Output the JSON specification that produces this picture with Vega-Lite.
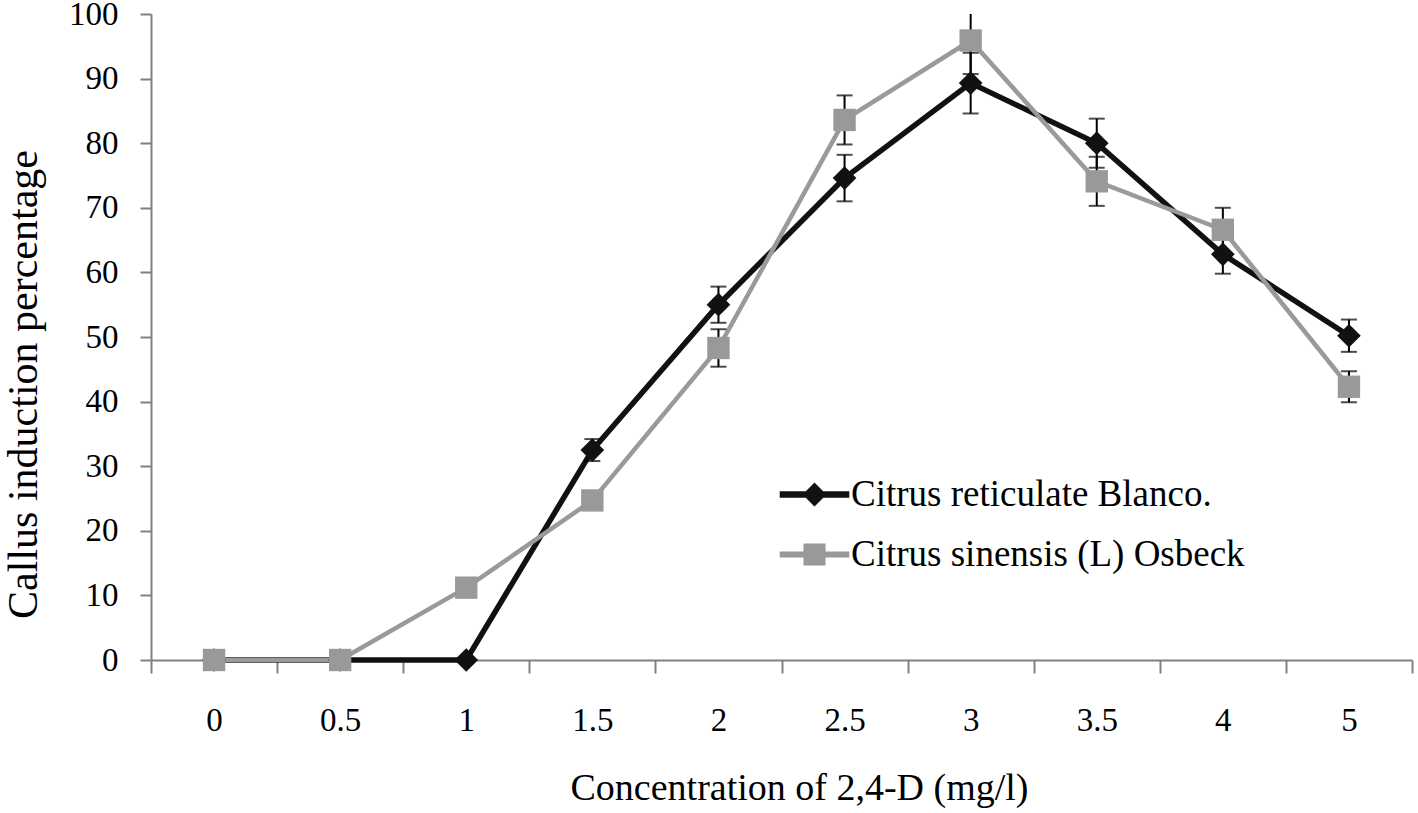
{
  "$schema": "https://vega.github.io/schema/vega-lite/v6.json",
  "width": 1261,
  "height": 646,
  "autosize": {"type": "none"},
  "padding": {"left": 151, "top": 14, "right": 6, "bottom": 153},
  "background": "white",
  "config": {
    "view": {"stroke": null},
    "font": "Liberation Serif",
    "axis": {"grid": false, "labelFont": "Liberation Serif", "titleFont": "Liberation Serif", "labelColor": "#000000", "titleColor": "#000000", "titleFontWeight": "normal", "domainColor": "#808080", "tickColor": "#808080", "domainWidth": 2, "tickWidth": 2},
    "legend": {"orient": "none", "title": null, "labelFont": "Liberation Serif", "labelFontSize": 37, "labelColor": "#000000", "labelLimit": 0, "labelOffset": 18, "symbolSize": 576, "symbolStrokeWidth": 0, "symbolOpacity": 1}
  },
  "data": {
    "values": [
      {"conc": "0", "series": "Citrus reticulate Blanco.", "value": 0, "lo": null, "hi": null},
      {"conc": "0.5", "series": "Citrus reticulate Blanco.", "value": 0, "lo": null, "hi": null},
      {"conc": "1", "series": "Citrus reticulate Blanco.", "value": 0, "lo": null, "hi": null},
      {"conc": "1.5", "series": "Citrus reticulate Blanco.", "value": 32.5, "lo": 30.8, "hi": 34.2},
      {"conc": "2", "series": "Citrus reticulate Blanco.", "value": 55.0, "lo": 52.2, "hi": 57.8},
      {"conc": "2.5", "series": "Citrus reticulate Blanco.", "value": 74.6, "lo": 71.0, "hi": 78.2},
      {"conc": "3", "series": "Citrus reticulate Blanco.", "value": 89.3, "lo": 84.6, "hi": 94.0},
      {"conc": "3.5", "series": "Citrus reticulate Blanco.", "value": 80.0, "lo": 76.2, "hi": 83.8},
      {"conc": "4", "series": "Citrus reticulate Blanco.", "value": 62.8, "lo": 59.8, "hi": 65.8},
      {"conc": "5", "series": "Citrus reticulate Blanco.", "value": 50.2, "lo": 47.7, "hi": 52.7},
      {"conc": "0", "series": "Citrus sinensis (L) Osbeck", "value": 0, "lo": null, "hi": null},
      {"conc": "0.5", "series": "Citrus sinensis (L) Osbeck", "value": 0, "lo": null, "hi": null},
      {"conc": "1", "series": "Citrus sinensis (L) Osbeck", "value": 11.2, "lo": null, "hi": null},
      {"conc": "1.5", "series": "Citrus sinensis (L) Osbeck", "value": 24.7, "lo": null, "hi": null},
      {"conc": "2", "series": "Citrus sinensis (L) Osbeck", "value": 48.3, "lo": 45.4, "hi": 51.2},
      {"conc": "2.5", "series": "Citrus sinensis (L) Osbeck", "value": 83.6, "lo": 79.8, "hi": 87.4},
      {"conc": "3", "series": "Citrus sinensis (L) Osbeck", "value": 95.9, "lo": 90.7, "hi": 101.1},
      {"conc": "3.5", "series": "Citrus sinensis (L) Osbeck", "value": 74.1, "lo": 70.3, "hi": 77.9},
      {"conc": "4", "series": "Citrus sinensis (L) Osbeck", "value": 66.6, "lo": 63.2, "hi": 70.0},
      {"conc": "5", "series": "Citrus sinensis (L) Osbeck", "value": 42.3, "lo": 39.9, "hi": 44.7}
    ]
  },
  "encoding": {
    "x": {
      "field": "conc",
      "type": "ordinal",
      "sort": ["0", "0.5", "1", "1.5", "2", "2.5", "3", "3.5", "4", "5"],
      "scale": {"type": "band", "paddingInner": 0, "paddingOuter": 0},
      "axis": {"title": "Concentration of 2,4-D (mg/l)", "labelAngle": 0, "tickBand": "extent", "tickSize": 13, "labelFontSize": 33, "labelPadding": 31, "titleFontSize": 38, "titlePadding": 32, "titleX": 648}
    }
  },
  "layer": [
    {
      "transform": [{"filter": "datum.series === 'Citrus reticulate Blanco.'"}],
      "mark": {"type": "line", "color": "#111111", "strokeWidth": 5.5},
      "encoding": {
        "y": {"field": "value", "type": "quantitative", "scale": {"domain": [0, 100], "nice": false}, "axis": {"title": "Callus induction percentage", "values": [0, 10, 20, 30, 40, 50, 60, 70, 80, 90, 100], "tickSize": 11, "labelFontSize": 33, "labelPadding": 22, "titleFontSize": 42, "titlePadding": 23, "titleY": 370}}
      }
    },
    {
      "transform": [{"filter": "datum.series === 'Citrus sinensis (L) Osbeck'"}],
      "mark": {"type": "line", "color": "#9a9a9a", "strokeWidth": 4.5},
      "encoding": {"y": {"field": "value", "type": "quantitative"}}
    },
    {
      "transform": [{"filter": "datum.lo != null"}],
      "mark": {"type": "rule", "color": "#000000", "strokeWidth": 2, "clip": true},
      "encoding": {"y": {"field": "lo", "type": "quantitative"}, "y2": {"field": "hi"}}
    },
    {
      "transform": [{"filter": "datum.lo != null"}],
      "mark": {"type": "tick", "color": "#000000", "size": 16, "thickness": 2, "clip": true},
      "encoding": {"y": {"field": "lo", "type": "quantitative"}}
    },
    {
      "transform": [{"filter": "datum.hi != null && datum.hi <= 100"}],
      "mark": {"type": "tick", "color": "#000000", "size": 16, "thickness": 2, "clip": true},
      "encoding": {"y": {"field": "hi", "type": "quantitative"}}
    },
    {
      "mark": {"type": "point", "filled": true, "opacity": 1, "strokeWidth": 1},
      "encoding": {
        "y": {"field": "value", "type": "quantitative"},
        "color": {
          "field": "series",
          "type": "nominal",
          "scale": {"domain": ["Citrus reticulate Blanco.", "Citrus sinensis (L) Osbeck"], "range": ["#111111", "#999999"]},
          "legend": null
        },
        "shape": {
          "field": "series",
          "type": "nominal",
          "scale": {"domain": ["Citrus reticulate Blanco.", "Citrus sinensis (L) Osbeck"], "range": ["diamond", "square"]},
          "legend": null
        },
        "size": {
          "field": "series",
          "type": "nominal",
          "scale": {"domain": ["Citrus reticulate Blanco.", "Citrus sinensis (L) Osbeck"], "range": [560, 500]},
          "legend": null
        }
      }
    },
    {
      "transform": [{"filter": "false"}],
      "mark": {"type": "point", "filled": true, "opacity": 1, "size": 576, "strokeWidth": 0, "color": "#111111"},
      "encoding": {
        "y": {"field": "value", "type": "quantitative"},
        "shape": {
          "field": "series",
          "type": "nominal",
          "scale": {"domain": ["Citrus reticulate Blanco."], "range": ["M-2.9,-0.28 L2.9,-0.28 L2.9,0.28 L-2.9,0.28 Z M0,-1 L1,0 L0,1 L-1,0 Z"]},
          "legend": {"legendX": 645, "legendY": 462, "symbolFillColor": "#111111"}
        }
      }
    },
    {
      "transform": [{"filter": "false"}],
      "mark": {"type": "point", "filled": true, "opacity": 1, "size": 576, "strokeWidth": 0, "color": "#999999"},
      "encoding": {
        "y": {"field": "value", "type": "quantitative"},
        "shape": {
          "field": "series",
          "type": "nominal",
          "scale": {"domain": ["Citrus sinensis (L) Osbeck"], "range": ["M-2.9,-0.24 L2.9,-0.24 L2.9,0.24 L-2.9,0.24 Z M-0.92,-0.92 L0.92,-0.92 L0.92,0.92 L-0.92,0.92 Z"]},
          "legend": {"legendX": 645, "legendY": 522, "symbolFillColor": "#999999"}
        }
      }
    }
  ],
  "resolve": {"scale": {"shape": "independent"}, "legend": {"shape": "independent"}}
}
